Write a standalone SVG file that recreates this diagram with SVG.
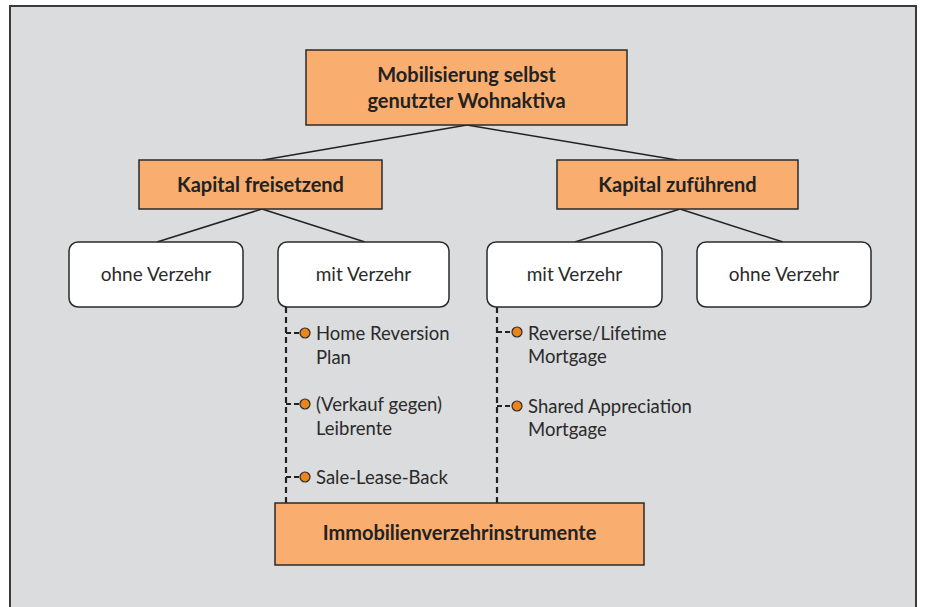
<svg xmlns="http://www.w3.org/2000/svg" width="929" height="607" viewBox="0 0 929 607">
<style>
.bg{fill:#dbdcde;stroke:#3a3a3a;stroke-width:2}
.org{fill:#f9ae6f;stroke:#2a2a2a;stroke-width:1.5}
.wht{fill:#ffffff;stroke:#2a2a2a;stroke-width:1.5}
.b{font-family:Lato,"Open Sans","Liberation Sans",sans-serif;font-weight:bold;font-size:20px;fill:#222;text-anchor:middle}
.r{font-family:Lato,"Open Sans","Liberation Sans",sans-serif;font-size:19px;fill:#2a2a2a;text-anchor:middle}
.it{font-family:Lato,"Open Sans","Liberation Sans",sans-serif;font-size:18.5px;fill:#2a2a2a}
.ln{stroke:#222;stroke-width:1.5;fill:none}
.dv{stroke:#222;stroke-width:2.2;stroke-dasharray:6 4;fill:none}
.dh{stroke:#222;stroke-width:2.2;stroke-dasharray:5 3;fill:none}
.dot{fill:#ec841c;stroke:#2a2a2a;stroke-width:1.2}
</style>
<rect class="bg" x="10" y="6" width="906" height="620"/>
<g id="connectors">
<line class="ln" x1="467" y1="125" x2="263" y2="160"/>
<line class="ln" x1="467" y1="125" x2="677" y2="160"/>
<line class="ln" x1="262" y1="209" x2="157" y2="242"/>
<line class="ln" x1="262" y1="209" x2="365" y2="242"/>
<line class="ln" x1="680" y1="209" x2="575" y2="242"/>
<line class="ln" x1="680" y1="209" x2="783" y2="242"/>
<line class="dv" x1="286" y1="307" x2="286" y2="503"/>
<line class="dv" x1="497" y1="307" x2="497" y2="503"/>
<line class="dh" x1="286" y1="333" x2="301" y2="333"/>
<line class="dh" x1="286" y1="404" x2="301" y2="404"/>
<line class="dh" x1="286" y1="477" x2="301" y2="477"/>
<line class="dh" x1="497" y1="332" x2="513" y2="332"/>
<line class="dh" x1="497" y1="406" x2="513" y2="406"/>
</g>
<g id="root">
<rect class="org" x="306" y="50" width="321" height="75"/>
<text class="b" x="466.5" y="82">Mobilisierung selbst</text>
<text class="b" x="466.5" y="108">genutzter Wohnaktiva</text>
</g>
<g id="kapital-freisetzend">
<rect class="org" x="139" y="160" width="243" height="49"/>
<text class="b" x="260.5" y="192">Kapital freisetzend</text>
</g>
<g id="kapital-zufuehrend">
<rect class="org" x="557" y="160" width="241" height="49"/>
<text class="b" x="677.5" y="192">Kapital zuführend</text>
</g>
<g id="ohne-verzehr-links">
<rect class="wht" x="69" y="242" width="174" height="65" rx="9"/>
<text class="r" x="156" y="281">ohne Verzehr</text>
</g>
<g id="mit-verzehr-links">
<rect class="wht" x="278" y="242" width="171" height="65" rx="9"/>
<text class="r" x="363.5" y="281">mit Verzehr</text>
</g>
<g id="mit-verzehr-rechts">
<rect class="wht" x="487" y="242" width="175" height="65" rx="9"/>
<text class="r" x="574.5" y="281">mit Verzehr</text>
</g>
<g id="ohne-verzehr-rechts">
<rect class="wht" x="697" y="242" width="174" height="65" rx="9"/>
<text class="r" x="784" y="281">ohne Verzehr</text>
</g>
<g id="home-reversion">
<circle class="dot" cx="305" cy="333" r="5"/>
<text class="it" x="316" y="340">Home Reversion</text>
<text class="it" x="316" y="364">Plan</text>
</g>
<g id="leibrente">
<circle class="dot" cx="305" cy="404" r="5"/>
<text class="it" x="316" y="411">(Verkauf gegen)</text>
<text class="it" x="316" y="435">Leibrente</text>
</g>
<g id="sale-lease-back">
<circle class="dot" cx="305" cy="477" r="5"/>
<text class="it" x="316" y="484">Sale-Lease-Back</text>
</g>
<g id="reverse-mortgage">
<circle class="dot" cx="517" cy="332" r="5"/>
<text class="it" x="528" y="340">Reverse/Lifetime</text>
<text class="it" x="528" y="363">Mortgage</text>
</g>
<g id="shared-appreciation">
<circle class="dot" cx="517" cy="406" r="5"/>
<text class="it" x="528" y="413">Shared Appreciation</text>
<text class="it" x="528" y="436">Mortgage</text>
</g>
<g id="immobilienverzehrinstrumente">
<rect class="org" x="275" y="503" width="369" height="62"/>
<text class="b" x="459.5" y="540">Immobilienverzehrinstrumente</text>
</g>
</svg>
